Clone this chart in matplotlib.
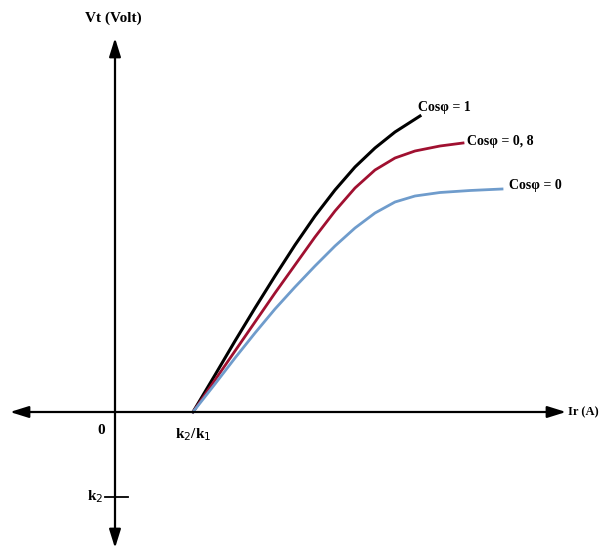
import numpy as np
import matplotlib.pyplot as plt

plt.rcParams['font.family'] = ['Liberation Serif', 'DejaVu Serif']
plt.rcParams['path.simplify'] = False

# données (origine = intersection des axes)
ir_1 = [78, 100, 120, 140, 160, 180, 200, 220, 240, 260, 280, 305]
vt_1 = [0, 37, 71, 104, 136, 167, 196, 222, 245, 264, 280, 296]
ir_08 = [78, 100, 120, 140, 160, 180, 200, 220, 240, 260, 280, 300, 325, 348]
vt_08 = [0, 32, 61, 90, 119, 147, 175, 201, 224, 242, 254, 261, 266, 269]
ir_0 = [78, 100, 120, 140, 160, 180, 200, 220, 240, 260, 280, 300, 325, 355, 387]
vt_0 = [0, 28, 54, 79, 103, 125, 146, 166, 184, 199, 210, 216, 219.5, 221.5, 223]

fig = plt.figure(figsize=(6, 5.5), dpi=100)
ax = fig.add_axes([0, 0, 1, 1])
ax.set_xlim(-115, 485)
ax.set_ylim(-138, 412)
ax.axis('off')

# axes avec flèches
arr = dict(arrowstyle='<|-|>,head_length=0.8,head_width=0.25', color='black',
           lw=1.6, mutation_scale=14, shrinkA=0, shrinkB=0)
ax.annotate('', xy=(451, 0), xytext=(-105, 0), arrowprops=arr)
ax.annotate('', xy=(0, 374), xytext=(0, -136), arrowprops=arr)
ax.plot([-10, 13], [-85, -85], color='black', lw=1.3)

ax.plot(ir_1, vt_1, color='black', lw=2.2, solid_joinstyle='round')
ax.plot(ir_08, vt_08, color='#a01030', lw=2.0, solid_joinstyle='round')
ax.plot(ir_0, vt_0, color='#6f9ccc', lw=2.0, solid_joinstyle='round')

fs = 11
ax.text(-2, 394, 'Vt (Volt)', ha='center', va='center', fontsize=fs, fontweight='bold')
ax.text(453, 0, 'Ir (A)', ha='left', va='center', fontsize=9, fontweight='bold')
ax.text(-14, -18, '0', ha='center', va='center', fontsize=fs, fontweight='bold')
ax.text(78, -23, r'k$_2$/k$_1$', ha='center', va='center', fontsize=fs, fontweight='bold')
ax.text(-12, -85, r'k$_2$', ha='right', va='center', fontsize=fs, fontweight='bold')
ax.text(303, 304, 'Cos\u03c6 = 1', ha='left', va='center', fontsize=10, fontweight='bold')
ax.text(352, 270, 'Cos\u03c6 = 0, 8', ha='left', va='center', fontsize=10, fontweight='bold')
ax.text(394, 226, 'Cos\u03c6 = 0', ha='left', va='center', fontsize=10, fontweight='bold')

plt.savefig('out.png', dpi=100)
